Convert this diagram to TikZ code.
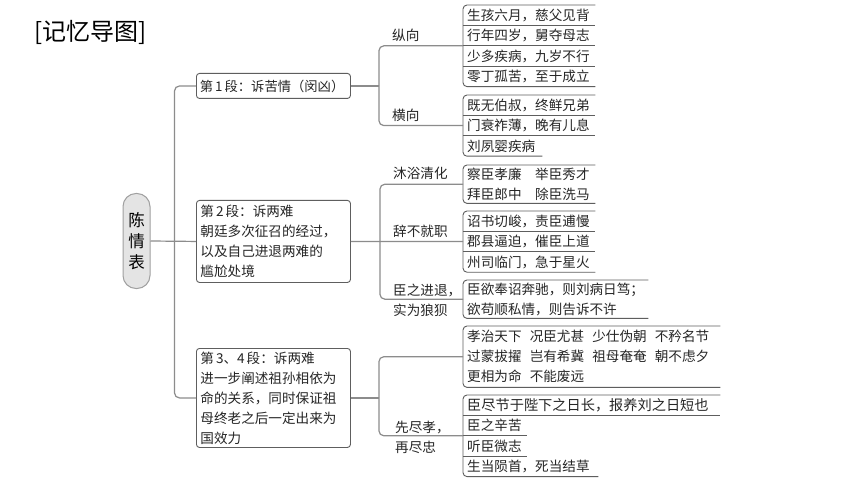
\documentclass[tikz,border=0pt]{standalone}
\usepackage{fontspec}
\newfontfamily\cjk{Noto Sans CJK SC}
\usetikzlibrary{calc}
\definecolor{linegray}{HTML}{8C8C8C}
\definecolor{boxgray}{HTML}{5E5E5E}
\definecolor{txt}{HTML}{262626}
\definecolor{rootfill}{HTML}{E4E4E4}
\definecolor{rootline}{HTML}{A0A0A0}
\newcommand\lf{\cjk\fontsize{13.6}{20}\selectfont}
\newcommand\gp{\kern0.6em}
\begin{document}
\begin{tikzpicture}[x=1pt,y=-1pt,
  conn/.style={draw=linegray, line width=1.2pt, rounded corners=5pt},
  para/.style={draw=boxgray, rounded corners=3pt, line width=0.9pt, anchor=north west,
    align=left, inner xsep=4pt, inner ysep=1pt, font=\lf, text=txt, text width=#1},
  leaf/.style={anchor=north west, minimum height=20pt, inner xsep=4pt, inner ysep=0pt,
    align=left, text width=#1, font=\lf, text=txt},
  lab/.style={anchor=west, inner sep=0pt, align=left, font=\lf, text=txt},
  grp/.style={draw=boxgray, line width=0.9pt, rounded corners=4pt},
  sepl/.style={draw=boxgray, line width=0.9pt},
  rootbox/.style={draw=rootline, fill=rootfill, line width=1pt, rounded corners=13pt,
    minimum width=27pt, minimum height=95pt, inner sep=0pt, align=center,
    font=\cjk\fontsize{16.5}{21}\selectfont, text=black}
]
\fill[white] (0,0) rectangle (860,484);
\useasboundingbox (0,0) rectangle (860,484);

% title
\node[anchor=west, inner sep=0pt, font=\cjk\fontsize{24}{28}\selectfont, text=black] (title) at (34,32) {[记忆导图]};

% root
\node[rootbox] (root) at (136.5,241) {陈\\情\\表};

% level-1 boxes
\node[para=147pt, font=\cjk\fontsize{13.3}{20}\selectfont, inner xsep=3.5pt, minimum height=25pt] (b1) at (196,73)
  {第\kern2pt1\kern2pt段：诉苦情（闵凶）};
\node[para=146pt, minimum height=82pt] (b2) at (196,200)
  {第\kern2pt2\kern2pt段：诉两难\\朝廷多次征召的经过，\\以及自己进退两难的\\尴尬处境};
\node[para=146pt, minimum height=99pt] (b3) at (196,348)
  {第\kern2pt3、4\kern2pt段：诉两难\\进一步阐述祖孙相依为\\命的关系，同时保证祖\\母终老之后一定出来为\\国效力};

% trunk
\coordinate (tr) at ([xshift=24pt]root.east);
\draw[conn] (root.east) -- (b2.west);
\draw[conn] (tr) |- (b1.west);
\draw[conn] (tr) |- (b3.west);

% ---------- section 1 ----------
\node[leaf=124pt] (z1) at (463,5) {生孩六月，慈父见背};
\node[leaf=124pt] (z2) at (z1.south west) {行年四岁，舅夺母志};
\node[leaf=124pt] (z3) at (z2.south west) {少多疾病，九岁不行};
\node[leaf=124pt] (z4) at (z3.south west) {零丁孤苦，至于成立};
\draw[grp] (z1.north east) -- (z1.north west) -- (z4.south west) -- (z4.south east);
\foreach \n in {z1,z2,z3} \draw[sepl] (\n.south west) -- (\n.south east);

\node[leaf=124pt] (y1) at (463,95) {既无伯叔，终鲜兄弟};
\node[leaf=124pt] (y2) at (y1.south west) {门衰祚薄，晚有儿息};
\node[leaf=71pt] (y3) at (y2.south west) {刘夙婴疾病};
\draw[grp] (y1.north east) -- (y1.north west) -- (y3.south west) -- (y3.south east);
\foreach \n in {y1,y2} \draw[sepl] (\n.south west) -- (\n.south east);

\node[lab] (l1) at (392,35) {纵向};
\node[lab] (l2) at (392,115) {横向};
\coordinate (k1) at ([xshift=28pt]b1.east);
\draw[conn] (b1.east) -- (k1);
\draw[conn] (k1) |- (z2.south west);
\draw[conn] (k1) |- (y2.west);

% ---------- section 2 ----------
\node[leaf=124pt, minimum height=38pt] (m1) at (463,165) {察臣孝廉\kern1em举臣秀才\\拜臣郎中\kern1em除臣洗马};
\draw[grp] (m1.north east) -- (m1.north west) -- (m1.south west) -- (m1.south east);

\node[leaf=124pt] (c1) at (463,211) {诏书切峻，责臣逋慢};
\node[leaf=124pt] (c2) at (c1.south west) {郡县逼迫，催臣上道};
\node[leaf=124pt] (c3) at (c2.south west) {州司临门，急于星火};
\draw[grp] (c1.north east) -- (c1.north west) -- (c3.south west) -- (c3.south east);
\foreach \n in {c1,c2} \draw[sepl] (\n.south west) -- (\n.south east);

\node[leaf=177pt, minimum height=38pt] (r1) at (463,280) {臣欲奉诏奔驰，则刘病日笃；\\欲苟顺私情，则告诉不许};
\draw[grp] (r1.north east) -- (r1.north west) -- (r1.south west) -- (r1.south east);

\node[lab] (l3) at (393,173) {沐浴清化};
\node[lab] (l4) at (393,231) {辞不就职};
\node[lab] (l5) at (393,300) {臣之进退，\\实为狼狈};
\coordinate (k2) at ([xshift=29pt]b2.east);
\draw[conn] (b2.east) -- (c2.west);
\draw[conn] (k2) |- (m1.west);
\draw[conn] (k2) |- (r1.west);

% ---------- section 3 ----------
\node[leaf=249pt, minimum height=61pt] (t1) at (463,326)
  {孝治天下\gp 况臣尤甚\gp 少仕伪朝\gp 不矜名节\\过蒙拔擢\gp 岂有希冀\gp 祖母奄奄\gp 朝不虑夕\\更相为命\gp 不能废远};
\draw[grp] (t1.north east) -- (t1.north west) -- (t1.south west) -- (t1.south east);

\node[leaf=249pt, font=\cjk\fontsize{14.2}{20}\selectfont] (u1) at (463,395) {臣尽节于陛下之日长，报养刘之日短也};
\node[leaf=56pt] (u2) at (u1.south west) {臣之辛苦};
\node[leaf=56pt] (u3) at (u2.south west) {听臣微志};
\node[leaf=127pt] (u4) at (u3.south west) {生当陨首，死当结草};
\draw[grp] (u1.north east) -- (u1.north west) -- (u4.south west) -- (u4.south east);
\foreach \n in {u1,u2,u3} \draw[sepl] (\n.south west) -- (\n.south east);

\node[lab] (l6) at (395,437) {先尽孝，\\再尽忠};
\coordinate (k3) at ([xshift=28pt]b3.east);
\draw[conn] (b3.east) -- (k3);
\draw[conn] (k3) |- (t1.west);
\draw[conn] (k3) |- (u2.south west);
\end{tikzpicture}
\end{document}
